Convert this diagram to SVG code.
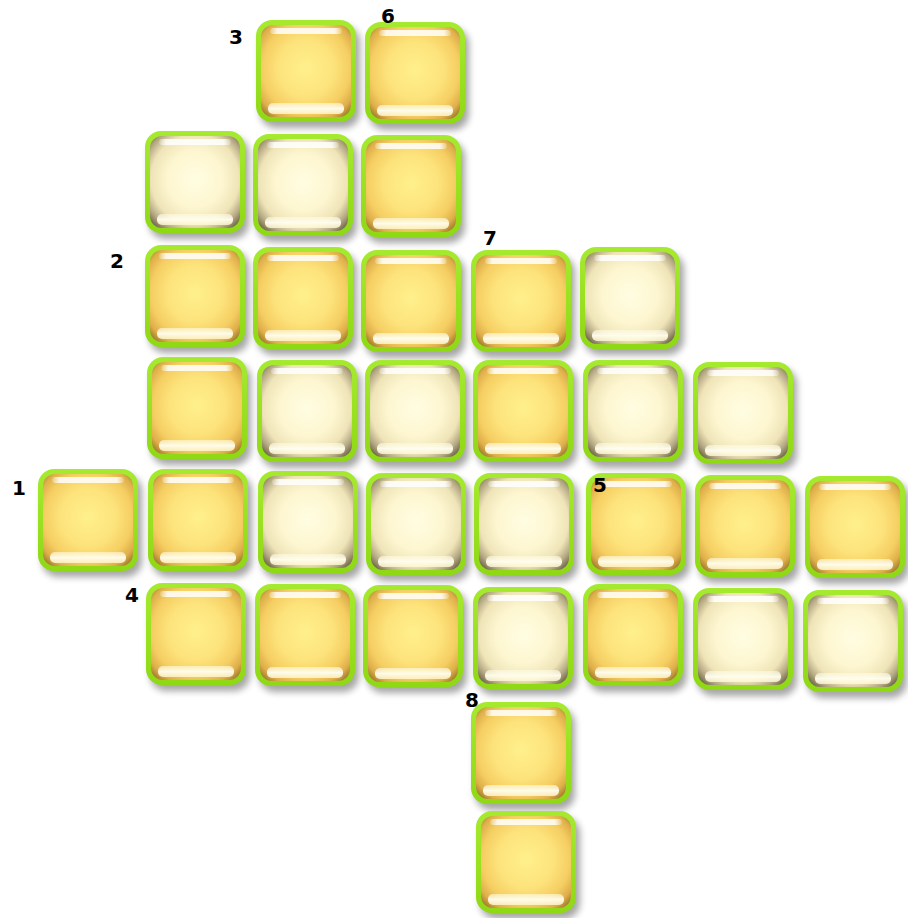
<svg xmlns="http://www.w3.org/2000/svg" xmlns:xlink="http://www.w3.org/1999/xlink" width="908" height="918" viewBox="0 0 908 918">
<style>
.lbl{font-family:"DejaVu Sans","Liberation Sans",sans-serif;font-weight:bold;font-size:20px;fill:#000;text-anchor:middle}
</style>
<defs>
<filter id="sh" x="-20%" y="-20%" width="150%" height="150%">
<feGaussianBlur stdDeviation="3.5"/>
</filter>
<radialGradient id="yg" cx="0.5" cy="0.47" r="0.68">
<stop offset="0" stop-color="#FFF08C"/>
<stop offset="0.45" stop-color="#FDE37C"/>
<stop offset="0.72" stop-color="#F5CE62"/>
<stop offset="0.88" stop-color="#DEAE4A"/>
<stop offset="1" stop-color="#A07A2C"/>
</radialGradient>
<radialGradient id="cg" cx="0.5" cy="0.47" r="0.68">
<stop offset="0" stop-color="#FFFDE2"/>
<stop offset="0.45" stop-color="#FDF6D0"/>
<stop offset="0.72" stop-color="#EFE4B8"/>
<stop offset="0.88" stop-color="#B3A782"/>
<stop offset="1" stop-color="#6E6448"/>
</radialGradient>
<linearGradient id="gb" x1="0" y1="0" x2="0" y2="1">
<stop offset="0" stop-color="#A6EA30"/>
<stop offset="1" stop-color="#8FD814"/>
</linearGradient>
<linearGradient id="top" x1="0" y1="0" x2="1" y2="0">
<stop offset="0" stop-color="#fff" stop-opacity="0.2"/>
<stop offset="0.1" stop-color="#fff" stop-opacity="0.85"/>
<stop offset="0.9" stop-color="#fff" stop-opacity="0.85"/>
<stop offset="1" stop-color="#fff" stop-opacity="0.2"/>
</linearGradient>
<linearGradient id="bot" x1="0" y1="0" x2="0" y2="1">
<stop offset="0" stop-color="#FFFBE0" stop-opacity="0.6"/>
<stop offset="0.5" stop-color="#FFFEF0" stop-opacity="0.95"/>
<stop offset="1" stop-color="#FFF8D0" stop-opacity="0.8"/>
</linearGradient>
<g id="ycell">
<rect x="4" y="6" width="100" height="102" rx="16" fill="#000" opacity="0.35" filter="url(#sh)"/>
<rect x="0" y="0" width="100" height="102" rx="16" fill="url(#gb)"/>
<rect x="5" y="5" width="90" height="92" rx="12" fill="url(#yg)"/>
<rect x="14" y="8" width="72" height="6" rx="3" fill="url(#top)"/>
<rect x="12" y="83" width="76" height="11" rx="5" fill="url(#bot)"/>
</g>
<g id="ccell">
<rect x="4" y="6" width="100" height="102" rx="16" fill="#000" opacity="0.35" filter="url(#sh)"/>
<rect x="0" y="0" width="100" height="102" rx="16" fill="url(#gb)"/>
<rect x="5" y="5" width="90" height="92" rx="12" fill="url(#cg)"/>
<rect x="14" y="8" width="72" height="6" rx="3" fill="url(#top)"/>
<rect x="12" y="83" width="76" height="11" rx="5" fill="url(#bot)"/>
</g>
</defs>
<rect width="908" height="918" fill="#fff"/>
<g id="cells">
<g id="r1c3"><use xlink:href="#ycell" x="256" y="20"/></g>
<g id="r1c4"><use xlink:href="#ycell" x="365" y="22"/></g>
<g id="r2c2"><use xlink:href="#ccell" x="145" y="131"/></g>
<g id="r2c3"><use xlink:href="#ccell" x="253" y="134"/></g>
<g id="r2c4"><use xlink:href="#ycell" x="361" y="135"/></g>
<g id="r3c2"><use xlink:href="#ycell" x="145" y="245"/></g>
<g id="r3c3"><use xlink:href="#ycell" x="253" y="247"/></g>
<g id="r3c4"><use xlink:href="#ycell" x="361" y="250"/></g>
<g id="r3c5"><use xlink:href="#ycell" x="471" y="250"/></g>
<g id="r3c6"><use xlink:href="#ccell" x="580" y="247"/></g>
<g id="r4c2"><use xlink:href="#ycell" x="147" y="357"/></g>
<g id="r4c3"><use xlink:href="#ccell" x="257" y="360"/></g>
<g id="r4c4"><use xlink:href="#ccell" x="365" y="360"/></g>
<g id="r4c5"><use xlink:href="#ycell" x="473" y="360"/></g>
<g id="r4c6"><use xlink:href="#ccell" x="583" y="360"/></g>
<g id="r4c7"><use xlink:href="#ccell" x="693" y="362"/></g>
<g id="r5c1"><use xlink:href="#ycell" x="38" y="469"/></g>
<g id="r5c2"><use xlink:href="#ycell" x="148" y="469"/></g>
<g id="r5c3"><use xlink:href="#ccell" x="258" y="471"/></g>
<g id="r5c4"><use xlink:href="#ccell" x="366" y="473"/></g>
<g id="r5c5"><use xlink:href="#ccell" x="474" y="473"/></g>
<g id="r5c6"><use xlink:href="#ycell" x="586" y="473"/></g>
<g id="r5c7"><use xlink:href="#ycell" x="695" y="475"/></g>
<g id="r5c8"><use xlink:href="#ycell" x="805" y="476"/></g>
<g id="r6c2"><use xlink:href="#ycell" x="146" y="583"/></g>
<g id="r6c3"><use xlink:href="#ycell" x="255" y="584"/></g>
<g id="r6c4"><use xlink:href="#ycell" x="363" y="585"/></g>
<g id="r6c5"><use xlink:href="#ccell" x="473" y="587"/></g>
<g id="r6c6"><use xlink:href="#ycell" x="583" y="584"/></g>
<g id="r6c7"><use xlink:href="#ccell" x="693" y="588"/></g>
<g id="r6c8"><use xlink:href="#ccell" x="803" y="590"/></g>
<g id="r7c5"><use xlink:href="#ycell" x="471" y="702"/></g>
<g id="r8c5"><use xlink:href="#ycell" x="476" y="811"/></g>
</g>
<g id="labels">
<text class="lbl" x="236" y="44">3</text>
<text class="lbl" x="388" y="23">6</text>
<text class="lbl" x="117" y="268">2</text>
<text class="lbl" x="490" y="245">7</text>
<text class="lbl" x="19" y="495">1</text>
<text class="lbl" x="132" y="602">4</text>
<text class="lbl" x="600" y="492">5</text>
<text class="lbl" x="472" y="707">8</text>
</g>
</svg>
